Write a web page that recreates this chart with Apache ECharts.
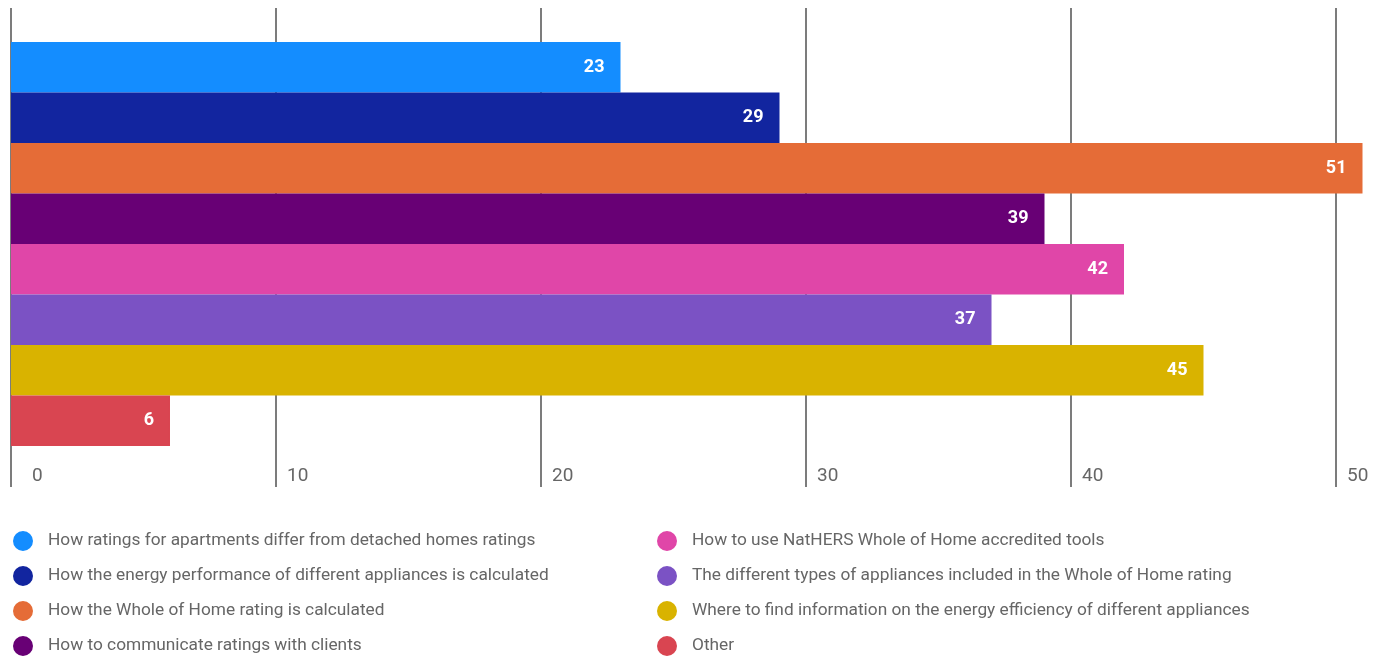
<!DOCTYPE html>
<html><head><meta charset="utf-8">
<script src="https://cdn.jsdelivr.net/npm/echarts@6/dist/echarts.min.js"></script>
<style>html,body{margin:0;padding:0;background:#fff}#c{width:1386px;height:659px}</style>
</head><body><div id="c"></div>
<script>
const categories = [
  'How ratings for apartments differ from detached homes ratings',
  'How the energy performance of different appliances is calculated',
  'How the Whole of Home rating is calculated',
  'How to communicate ratings with clients',
  'How to use NatHERS Whole of Home accredited tools',
  'The different types of appliances included in the Whole of Home rating',
  'Where to find information on the energy efficiency of different appliances',
  'Other'
];
const values = [23, 29, 51, 39, 42, 37, 45, 6];
const colors = ['#148DFF', '#12259F', '#E56C37', '#680075', '#E046A8', '#7B52C4', '#D9B300', '#D94551'];
const tickLabels = [0, 10, 20, 30, 40, 50];

const FONT = "Roboto,sans-serif";
const chart = echarts.init(document.getElementById('c'));

const series = categories.map((name, i) => ({
  name: name,
  type: 'bar',
  stack: 'all',
  xAxisIndex: 1,
  yAxisIndex: 1,
  barCategoryGap: '0%',
  clip: false,
  zlevel: 1,
  z: 3,
  itemStyle: { color: colors[i], borderColor: colors[i], borderWidth: 1.5 },
  label: {
    show: true, position: 'insideRight', distance: 16,
    color: '#fff', fontWeight: 'bold', fontSize: 18, fontFamily: FONT
  },
  data: values.map((v, j) => (j === i ? v : '-'))
}));

chart.setOption({
  animation: false,
  grid: [
    { left: 11, right: 50, top: 8, bottom: 172 },
    { left: 11, right: 50, top: 42, bottom: 213 }
  ],
  xAxis: [
    {
      gridIndex: 0, type: 'value', min: tickLabels[0], max: tickLabels[tickLabels.length - 1], interval: 10,
      axisLine: { show: false }, axisTick: { show: false },
      splitLine: { show: true, lineStyle: { color: '#505050', width: 1.5 } },
      axisLabel: {
        inside: true, margin: 1, align: 'left', color: '#666', fontSize: 19, fontFamily: FONT,
        formatter: v => (v === 0 ? '{z|0}' : '{n|' + v + '}'),
        rich: { z: { padding: [0, 0, 0, 21], fontSize: 19, color: '#666', fontFamily: FONT },
                n: { padding: [0, 0, 0, 11], fontSize: 19, color: '#666', fontFamily: FONT } }
      }
    },
    {
      gridIndex: 1, type: 'value', min: tickLabels[0], max: tickLabels[tickLabels.length - 1], interval: 10,
      show: false, splitLine: { show: false }
    }
  ],
  yAxis: [
    { gridIndex: 0, type: 'value', min: 0, max: 1, show: false, splitLine: { show: false } },
    { gridIndex: 1, type: 'category', data: categories, inverse: true, show: false, splitLine: { show: false } }
  ],
  legend: [
    {
      data: categories.slice(0, 4), left: 8, top: 526, height: 150, orient: 'vertical',
      icon: 'circle', itemWidth: 18, itemHeight: 18, itemGap: 15,
      textStyle: { color: '#666', fontSize: 17.3, fontFamily: FONT, padding: [0, 0, 0, 11] }
    },
    {
      data: categories.slice(4), left: 652, top: 526, height: 150, orient: 'vertical',
      icon: 'circle', itemWidth: 18, itemHeight: 18, itemGap: 15,
      textStyle: { color: '#666', fontSize: 17.3, fontFamily: FONT, padding: [0, 0, 0, 11] }
    }
  ],
  series: series
});
</script></body></html>
